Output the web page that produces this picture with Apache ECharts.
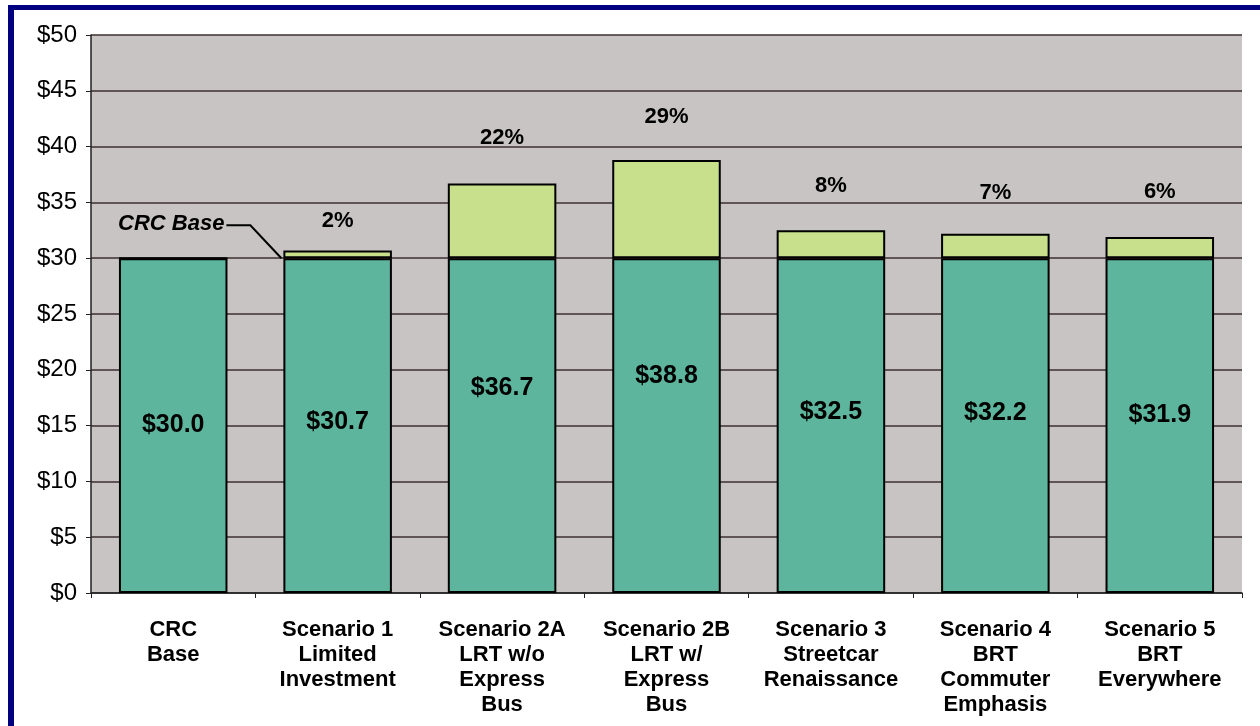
<!DOCTYPE html>
<html>
<head>
<meta charset="utf-8">
<script src="https://cdn.jsdelivr.net/npm/echarts@6/dist/echarts.min.js"></script>
<style>
  html, body { margin: 0; padding: 0; background: #fff; }
  #chart { position: absolute; left: 0; top: 0; width: 1260px; height: 726px; }
  #frame { position: absolute; left: 8px; top: 5px; width: 1300px; height: 800px;
           border-left: 6px solid #000080; border-top: 5px solid #000080; pointer-events: none; }
</style>
</head>
<body>
<div id="chart"></div>
<div id="frame"></div>
<script>
const categories = [
  'CRC\nBase',
  'Scenario 1\nLimited\nInvestment',
  'Scenario 2A\nLRT w/o\nExpress\nBus',
  'Scenario 2B\nLRT w/\nExpress\nBus',
  'Scenario 3\nStreetcar\nRenaissance',
  'Scenario 4\nBRT\nCommuter\nEmphasis',
  'Scenario 5\nBRT\nEverywhere'
];
const baseValues = [30, 30, 30, 30, 30, 30, 30];
const totalValues = [30.0, 30.7, 36.7, 38.8, 32.5, 32.2, 31.9];
const pctIncrease = [null, 2, 22, 29, 8, 7, 6];
const yTicks = [0, 5, 10, 15, 20, 25, 30, 35, 40, 45, 50];

const pctDistance = [0, 18, 34, 32, 33, 30, 34];

const incValues = totalValues.map((t, i) => +(t - baseValues[i]).toFixed(2));

const FONT = '"Liberation Sans", Arial, sans-serif';
const chart = echarts.init(document.getElementById('chart'));

const option = {
  animation: false,
  backgroundColor: '#ffffff',
  grid: { left: 91, right: 18, top: 35, bottom: 133, show: true,
          backgroundColor: '#c8c4c4', borderWidth: 0 },
  xAxis: {
    type: 'category',
    data: categories,
    axisLine: { show: true, lineStyle: { color: '#222', width: 1.5 } },
    axisTick: { show: true, length: 5, lineStyle: { color: '#222' } },
    axisLabel: { interval: 0, margin: 24, color: '#000', fontFamily: FONT,
                 fontWeight: 'bold', fontSize: 22, lineHeight: 25 }
  },
  yAxis: {
    type: 'value',
    min: yTicks[0], max: yTicks[yTicks.length - 1], interval: 5,
    axisLine: { show: true, lineStyle: { color: '#222', width: 1.5 } },
    axisTick: { show: true, length: 5, lineStyle: { color: '#222' } },
    splitLine: { show: true, lineStyle: { color: '#3e3030', width: 1.5 } },
    axisLabel: { margin: 14, color: '#000', fontFamily: FONT, fontSize: 24,
                 formatter: v => '$' + v }
  },
  series: [
    {
      name: 'Base', type: 'bar', stack: 'a', barCategoryGap: '34%', barGap: '-100%',
      data: baseValues,
      itemStyle: { color: '#5cb59c', borderColor: '#000', borderWidth: 2 },
      z: 2
    },
    {
      name: 'Increase', type: 'bar', stack: 'a', barCategoryGap: '34%', barGap: '-100%',
      data: incValues.map((v, i) => ({
        value: v,
        label: { show: pctIncrease[i] != null, distance: pctDistance[i] }
      })),
      itemStyle: { color: '#c8e08c', borderColor: '#000', borderWidth: 2 },
      label: {
        show: true, position: 'top', color: '#000', fontFamily: FONT,
        fontWeight: 'bold', fontSize: 22,
        formatter: p => pctIncrease[p.dataIndex] == null ? '' : pctIncrease[p.dataIndex] + '%'
      },
      z: 2
    },
    {
      name: 'Total', type: 'bar', stack: 'labels', barCategoryGap: '34%', barGap: '-100%',
      data: totalValues,
      itemStyle: { color: 'rgba(0,0,0,0)', borderWidth: 0 },
      label: {
        show: true, position: 'inside', color: '#000', fontFamily: FONT,
        fontWeight: 'bold', fontSize: 25,
        formatter: p => '$' + p.value.toFixed(1)
      },
      silent: true, z: 3
    }
  ]
};
chart.setOption(option);

// "CRC Base" callout pointing at the top-left of the Scenario 1 base bar
const c1 = chart.convertToPixel({ xAxisIndex: 0 }, 1);
const c2 = chart.convertToPixel({ xAxisIndex: 0 }, 2);
const catW = c2 - c1;
const ex = c1 - catW * 0.33 - 2;
const ey = chart.convertToPixel({ yAxisIndex: 0 }, baseValues[1]);
chart.setOption({
  graphic: [
    { type: 'polyline', z: 10,
      shape: { points: [[ex - 55, ey - 33], [ex - 31, ey - 33], [ex, ey]] },
      style: { stroke: '#000', lineWidth: 2, fill: null } },
    { type: 'text', z: 10, x: ex - 57, y: ey - 34,
      style: { text: 'CRC Base', fill: '#000', font: 'italic bold 22px ' + FONT,
               align: 'right', verticalAlign: 'middle' } }
  ]
});
</script>
</body>
</html>
